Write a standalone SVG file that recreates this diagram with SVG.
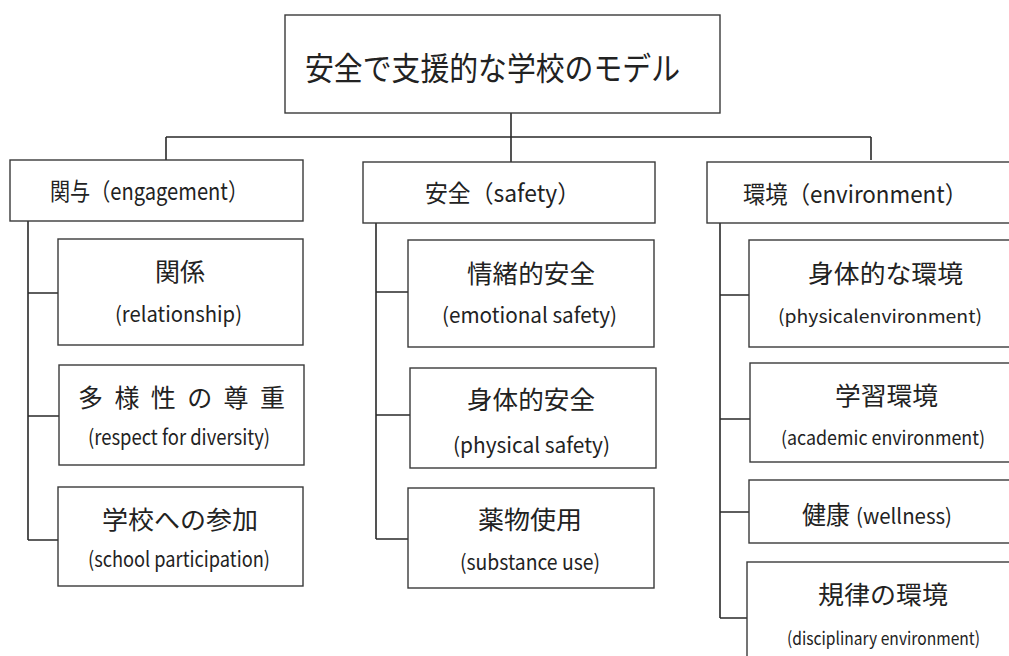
<svg xmlns="http://www.w3.org/2000/svg" width="1009" height="656" viewBox="0 0 1009 656">
<style>
.box{fill:#fff;stroke:#3a3a3a;stroke-width:1.4}
.ln{fill:none;stroke:#2a2a2a;stroke-width:1.6}
text{font-family:"Noto Sans CJK JP","Noto Sans",sans-serif;fill:#222}
.t{font-size:32px}
.h{font-size:24px}
.j{font-size:25px}
.e{font-size:21px}
.s{font-size:18px}
.a{font-size:19px}
</style>
<rect width="1009" height="656" fill="#fff"/>
<g id="connectors">
<path class="ln" d="M511 113V162M166 137H871M166 137V160M871 137V160"/>
<path class="ln" d="M28 221V540M28 293H58M28 416H59M28 540H58"/>
<path class="ln" d="M376 223V539M376 292H408M376 415H410M376 539H408"/>
<path class="ln" d="M720 223V618M720 295H749M720 419H750M720 512H749M720 618H747"/>
</g>
<g id="root">
<rect class="box" x="285" y="15" width="435" height="98"/>
<text class="t" x="305" y="80" textLength="375" lengthAdjust="spacingAndGlyphs">安全で支援的な学校のモデル</text>
</g>
<g id="engagement">
<rect class="box" x="10" y="160" width="293" height="61"/>
<text class="h" x="50" y="200" textLength="198" lengthAdjust="spacingAndGlyphs">関与（engagement）</text>
</g>
<g id="safety">
<rect class="box" x="363" y="162" width="292" height="61"/>
<text class="h" x="425" y="202" textLength="155" lengthAdjust="spacingAndGlyphs">安全（safety）</text>
</g>
<g id="environment">
<rect class="box" x="707" y="162" width="320" height="61"/>
<text class="h" x="743" y="203" textLength="224" lengthAdjust="spacingAndGlyphs">環境（environment）</text>
</g>
<g id="relationship">
<rect class="box" x="58" y="239" width="245" height="106"/>
<text class="j" x="155" y="281" textLength="50" lengthAdjust="spacingAndGlyphs">関係</text>
<text class="e" x="115" y="322" textLength="127" lengthAdjust="spacingAndGlyphs">(relationship)</text>
</g>
<g id="diversity">
<rect class="box" x="59" y="365" width="245" height="100"/>
<text class="j" x="78" y="407" textLength="207" lengthAdjust="spacing">多 様 性 の 尊 重</text>
<text class="e" x="88" y="445" textLength="182" lengthAdjust="spacingAndGlyphs">(respect for diversity)</text>
</g>
<g id="participation">
<rect class="box" x="58" y="487" width="245" height="99"/>
<text class="j" x="102" y="529" textLength="156" lengthAdjust="spacingAndGlyphs">学校への参加</text>
<text class="e" x="88" y="567" textLength="182" lengthAdjust="spacingAndGlyphs">(school participation)</text>
</g>
<g id="emotional">
<rect class="box" x="408" y="240" width="246" height="107"/>
<text class="j" x="467" y="283" textLength="128" lengthAdjust="spacingAndGlyphs">情緒的安全</text>
<text class="e" x="442" y="323" textLength="175" lengthAdjust="spacingAndGlyphs">(emotional safety)</text>
</g>
<g id="physical-safety">
<rect class="box" x="410" y="368" width="246" height="100"/>
<text class="j" x="467" y="409" textLength="128" lengthAdjust="spacingAndGlyphs">身体的安全</text>
<text class="e" x="453" y="453" textLength="157" lengthAdjust="spacingAndGlyphs">(physical safety)</text>
</g>
<g id="substance">
<rect class="box" x="408" y="488" width="246" height="100"/>
<text class="j" x="478" y="529" textLength="104" lengthAdjust="spacingAndGlyphs">薬物使用</text>
<text class="e" x="460" y="570" textLength="140" lengthAdjust="spacingAndGlyphs">(substance use)</text>
</g>
<g id="physical-env">
<rect class="box" x="749" y="240" width="280" height="107"/>
<text class="j" x="808" y="283" textLength="155" lengthAdjust="spacingAndGlyphs">身体的な環境</text>
<text class="s" x="778" y="323" textLength="204" lengthAdjust="spacingAndGlyphs">(physicalenvironment)</text>
</g>
<g id="academic">
<rect class="box" x="750" y="363" width="280" height="99"/>
<text class="j" x="835" y="405" textLength="103" lengthAdjust="spacingAndGlyphs">学習環境</text>
<text class="a" x="781" y="445" textLength="204" lengthAdjust="spacingAndGlyphs">(academic environment)</text>
</g>
<g id="wellness">
<rect class="box" x="749" y="480" width="280" height="63"/>
<text class="j" x="802" y="524" textLength="48" lengthAdjust="spacingAndGlyphs">健康</text>
<text class="e" x="856" y="524" textLength="96" lengthAdjust="spacingAndGlyphs">(wellness)</text>
</g>
<g id="disciplinary">
<rect class="box" x="747" y="562" width="280" height="110"/>
<text class="j" x="818" y="604" textLength="130" lengthAdjust="spacingAndGlyphs">規律の環境</text>
<text class="s" x="787" y="645" textLength="193" lengthAdjust="spacingAndGlyphs">(disciplinary environment)</text>
</g>
</svg>
